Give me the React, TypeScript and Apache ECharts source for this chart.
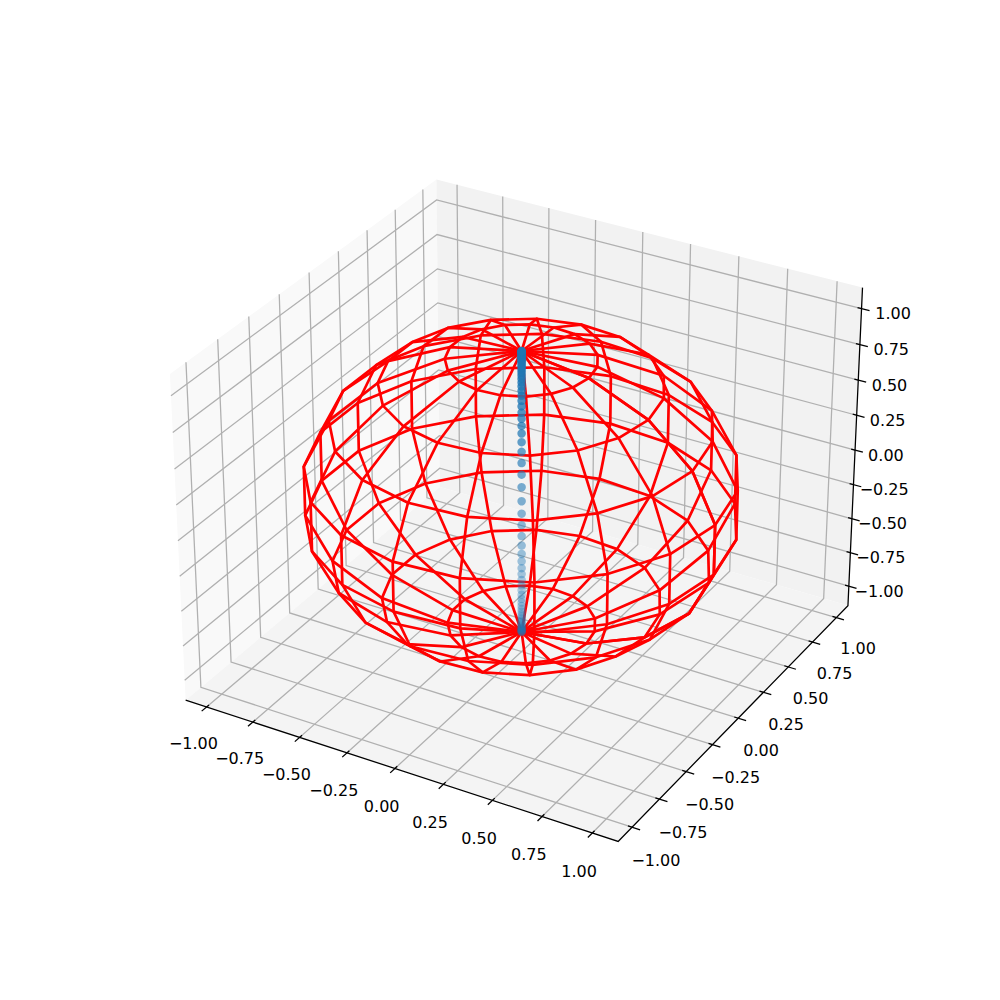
import React, { useEffect, useRef } from "react";
import * as echarts from "echarts";

// Axis ticks and their labels (shared by x, y and z)
const tickValues = [-1, -0.75, -0.5, -0.25, 0, 0.25, 0.5, 0.75, 1];
const tickLabels = ["\u22121.00", "\u22120.75", "\u22120.50", "\u22120.25", "0.00", "0.25", "0.50", "0.75", "1.00"];

// Wireframe sphere: cos / sin of the 20 azimuth samples, sin / cos of the 10 polar samples
const cosAzimuth = [1, 0.9458, 0.7891, 0.5469, 0.2455, -0.0826, -0.4017, -0.6773, -0.8795, -0.9864, -0.9864, -0.8795, -0.6773, -0.4017, -0.0826, 0.2455, 0.5469, 0.7891, 0.9458, 1];
const sinAzimuth = [0, 0.3247, 0.6142, 0.8372, 0.9694, 0.9966, 0.9158, 0.7357, 0.4759, 0.1646, -0.1646, -0.4759, -0.7357, -0.9158, -0.9966, -0.9694, -0.8372, -0.6142, -0.3247, 0];
const sinPolar = [0, 0.342, 0.6428, 0.866, 0.9848, 0.9848, 0.866, 0.6428, 0.342, 0];
const cosPolar = [1, 0.9397, 0.766, 0.5, 0.1736, -0.1736, -0.5, -0.766, -0.9397, -1];

// Scatter points on the vertical axis (x = y = 0): |z|, mirrored both ways
const scatterZUpper = [0.05, 0.139, 0.221, 0.3, 0.368, 0.429, 0.482, 0.532, 0.575, 0.618, 0.657, 0.693, 0.726, 0.756, 0.783, 0.808, 0.831, 0.851, 0.87, 0.886, 0.9, 0.914, 0.925, 0.935, 0.944, 0.953, 0.961, 0.968, 0.974, 0.98, 0.985, 0.989, 0.993, 0.996, 0.998, 1];

// Limits of the 3D box
const X_LIM = [-1.114, 1.1274];
const Y_LIM = [-1.1245, 1.1245];
const Z_LIM = [-1.1458, 1.1458];

// matplotlib-style default camera: azim -60, elev 30, box aspect 4:4:3, dist 10
const boxX = 1.1905;
const boxZ = 0.8929;
const W = [0.433, -0.75, 0.5];
const U = [0.866, 0.5, 0];
const V = [-0.25, 0.433, 0.866];
const unit = (v: number, lim: number[]) => (v - lim[0]) / (lim[1] - lim[0]) - 0.5;
function project(x: number, y: number, z: number): [number, number] {
  const bx = unit(x, X_LIM) * boxX;
  const by = unit(y, Y_LIM) * boxX;
  const bz = unit(z, Z_LIM) * boxZ;
  const depth = 10 - (W[0] * bx + W[1] * by + W[2] * bz);
  return [(U[0] * bx + U[1] * by + U[2] * bz) / depth, (V[0] * bx + V[1] * by + V[2] * bz) / depth];
}
const poly = (pts: number[][]) => ({ coords: pts.map((p) => project(p[0], p[1], p[2])) });

function buildOption() {
  const [x0, x1] = X_LIM;
  const [y0, y1] = Y_LIM;
  const [z0, z1] = Z_LIM;
  const panes = [
    { color: "#f9f9f9", pts: [[x0, y0, z0], [x0, y1, z0], [x0, y1, z1], [x0, y0, z1]] },
    { color: "#f2f2f2", pts: [[x0, y1, z0], [x1, y1, z0], [x1, y1, z1], [x0, y1, z1]] },
    { color: "#f4f4f4", pts: [[x0, y0, z0], [x1, y0, z0], [x1, y1, z0], [x0, y1, z0]] },
  ];
  const grid: any[] = [];
  const ticks: any[] = [];
  const labels: { p: [number, number]; t: string }[] = [];
  tickValues.forEach((v, i) => {
    grid.push(poly([[v, y0, z0], [v, y1, z0], [v, y1, z1]]));
    grid.push(poly([[x1, v, z0], [x0, v, z0], [x0, v, z1]]));
    grid.push(poly([[x0, y0, v], [x0, y1, v], [x1, y1, v]]));
    ticks.push(poly([[v, y0 - 0.04, z0], [v, y0 + 0.02, z0]]));
    ticks.push(poly([[x1 + 0.04, v, z0], [x1 - 0.02, v, z0]]));
    ticks.push(poly([[x1 + 0.04, y1, v], [x1 - 0.02, y1, v]]));
    labels.push({ p: project(v, y0 - 0.116, z0 - 0.18), t: tickLabels[i] });
    labels.push({ p: project(x1 + 0.12, v, z0 - 0.185), t: tickLabels[i] });
    labels.push({ p: project(x1 + 0.144, y1 + 0.028, v), t: tickLabels[i] });
  });
  const axisLines = [
    poly([[x0, y0, z0], [x1, y0, z0], [x1, y1, z0], [x1, y1, z1]]),
  ];
  const wires: any[] = [];
  cosAzimuth.forEach((c, i) => {
    wires.push(poly(sinPolar.map((s, j) => [c * s, sinAzimuth[i] * s, cosPolar[j]])));
  });
  sinPolar.forEach((s, j) => {
    if (s === 0) return;
    wires.push(poly(cosAzimuth.map((c, i) => [c * s, sinAzimuth[i] * s, cosPolar[j]])));
  });
  const zs = [...scatterZUpper.map((z) => -z).reverse(), ...scatterZUpper];
  const points = zs.map((z) => ({
    value: project(0, 0, z),
    itemStyle: { opacity: 0.25 + 0.65 * ((z + 1) / 2) },
  }));

  return {
    animation: false,
    backgroundColor: "#ffffff",
    grid: { left: 127.5, top: 120, width: 770, height: 770, containLabel: false },
    xAxis: { type: "value", min: -0.095, max: 0.09, show: false },
    yAxis: { type: "value", min: -0.095, max: 0.09, show: false },
    series: [
      {
        type: "custom",
        coordinateSystem: "cartesian2d",
        silent: true,
        clip: false,
        data: panes.map((_, i) => i),
        encode: { x: 0 },
        renderItem: (params: any, api: any) => {
          const pane = panes[params.dataIndex];
          return {
            type: "polygon",
            shape: { points: pane.pts.map((p) => api.coord(project(p[0], p[1], p[2]))) },
            style: { fill: pane.color, stroke: "none" },
          };
        },
      },
      {
        type: "lines",
        coordinateSystem: "cartesian2d",
        polyline: true,
        silent: true,
        data: grid,
        lineStyle: { color: "#b0b0b0", width: 1.28, opacity: 1 },
      },
      {
        type: "lines",
        coordinateSystem: "cartesian2d",
        polyline: true,
        silent: true,
        data: [...axisLines, ...ticks],
        lineStyle: { color: "#000000", width: 1.28, opacity: 1 },
      },
      {
        type: "scatter",
        silent: true,
        symbol: "circle",
        symbolSize: 8.5,
        data: points,
        itemStyle: { color: "#1f77b4" },
      },
      {
        type: "lines",
        coordinateSystem: "cartesian2d",
        polyline: true,
        silent: true,
        data: wires,
        lineStyle: { color: "#ff0000", width: 2.7, opacity: 1, join: "round" },
      },
      {
        type: "custom",
        coordinateSystem: "cartesian2d",
        silent: true,
        clip: false,
        data: labels.map((l) => l.p),
        encode: { x: 0, y: 1 },
        renderItem: (params: any, api: any) => {
          const c = api.coord([api.value(0), api.value(1)]);
          return {
            type: "text",
            x: c[0],
            y: c[1],
            style: {
              text: labels[params.dataIndex].t,
              fill: "#000000",
              font: '16px "DejaVu Sans"',
              textAlign: "center",
              textVerticalAlign: "middle",
            },
          };
        },
      },
    ],
  };
}

export default function App() {
  const ref = useRef<HTMLDivElement>(null);
  useEffect(() => {
    const chart = echarts.init(ref.current!, undefined, { renderer: "svg" });
    chart.setOption(buildOption() as any);
    return () => chart.dispose();
  }, []);
  return <div ref={ref} style={{ position: "absolute", left: 0, top: 0, width: 1000, height: 1000 }} />;
}
